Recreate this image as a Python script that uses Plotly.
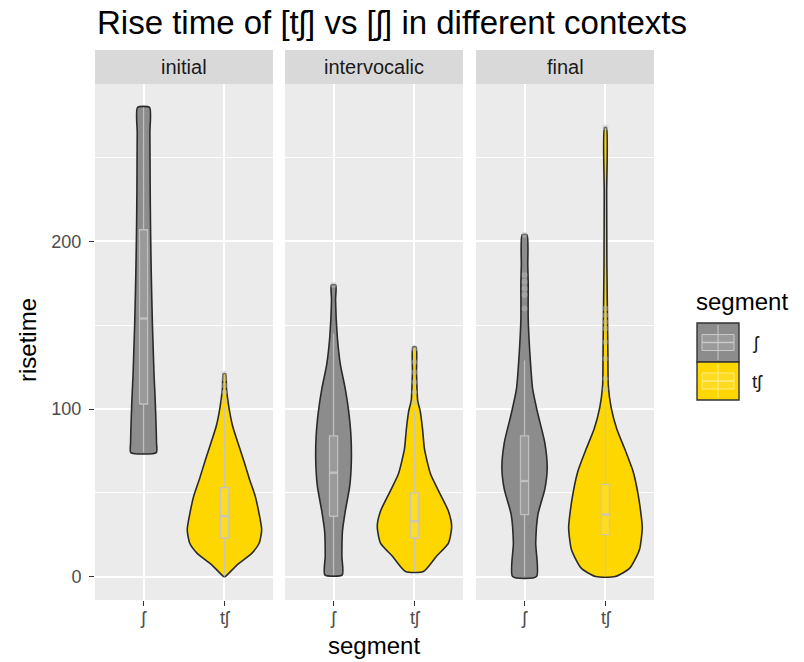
import plotly.graph_objects as go

# ---------------------------------------------------------------- data
contexts = ["initial", "intervocalic", "final"]
segments = ["ʃ", "tʃ"]
segment_pos = [1, 2]
segment_fill = ["#8C8C8C", "#FFD700"]

# Violin outlines: risetime levels and kernel-density half-widths
# (half-width in units of the category spacing).
initial_sh_level = [74, 80, 90, 100, 110, 120, 135, 150, 170, 190, 210, 230, 250, 265, 280]
initial_sh_width = [0.158, 0.160, 0.155, 0.148, 0.140, 0.130, 0.120, 0.110, 0.100, 0.092, 0.086, 0.082, 0.080, 0.078, 0.075]

initial_tsh_level = [0, 7, 14, 20, 28, 37, 48, 58, 69, 80, 90, 101, 112, 121]
initial_tsh_width = [0.010, 0.157, 0.340, 0.430, 0.460, 0.430, 0.380, 0.310, 0.240, 0.165, 0.100, 0.055, 0.025, 0.015]

interv_sh_level = [1, 12, 27, 39, 54, 69, 84, 99, 112, 127, 144, 165, 174]
interv_sh_width = [0.108, 0.103, 0.110, 0.145, 0.200, 0.220, 0.215, 0.186, 0.145, 0.083, 0.045, 0.025, 0.027]

interv_tsh_level = [3, 12, 20, 30, 39, 50, 61, 76, 88, 99, 105, 122, 137]
interv_tsh_width = [0.110, 0.270, 0.420, 0.460, 0.420, 0.310, 0.200, 0.124, 0.100, 0.070, 0.040, 0.025, 0.020]

final_sh_level = [0, 20, 37, 52, 65, 80, 97, 112, 133, 154, 175, 186, 204]
final_sh_width = [0.148, 0.138, 0.165, 0.250, 0.280, 0.250, 0.165, 0.100, 0.066, 0.045, 0.045, 0.040, 0.030]

final_tsh_level = [0, 5, 16, 29, 37, 50, 63, 76, 88, 101, 114, 133, 154, 186, 229, 268]
final_tsh_width = [0.120, 0.300, 0.420, 0.455, 0.440, 0.400, 0.340, 0.240, 0.140, 0.070, 0.035, 0.030, 0.025, 0.018, 0.015, 0.012]

violin_levels = [[initial_sh_level, initial_tsh_level],
                 [interv_sh_level, interv_tsh_level],
                 [final_sh_level, final_tsh_level]]
violin_widths = [[initial_sh_width, initial_tsh_width],
                 [interv_sh_width, interv_tsh_width],
                 [final_sh_width, final_tsh_width]]

# Box-plot summaries, ordered (initial ʃ, initial tʃ, interv ʃ, interv tʃ, final ʃ, final tʃ)
box_low = [74, 0, 1, 3, 0, 0]
box_q1 = [103, 23, 36, 23, 37, 25]
box_median = [154, 36, 62, 33, 57, 37]
box_q3 = [207, 53, 84, 50, 84, 55]
box_high = [280, 101, 145, 99, 129, 101]

# Outlying observations beyond the whiskers
outliers = [
    [],
    [105, 110, 114, 118, 121],
    [174],
    [104, 110, 116, 122, 128, 136],
    [160, 168, 172, 176, 180, 204],
    [112, 118, 130, 140, 148, 152, 156, 160, 268],
]

BOX_HALF = 0.05
BOX_LINE = "rgba(196,196,196,0.9)"
BOX_FILL = "rgba(255,255,255,0.13)"
FONT = "Liberation Sans, Arial, Helvetica, sans-serif"

# ---------------------------------------------------------------- layout helpers
W, H = 804, 662


def px(x):
    return x / W


def py(y):
    return 1 - y / H


panel_x = [(95, 273), (285, 463), (476, 654)]
panel_top, panel_bottom = 84, 600
strip_top = 50

fig = go.Figure()

for ci, ctx in enumerate(contexts):
    ax = "" if ci == 0 else str(ci + 1)
    xa, ya = "x" + ax, "y" + ax
    for si, seg in enumerate(segments):
        c = segment_pos[si]
        lv = violin_levels[ci][si]
        wd = violin_widths[ci][si]
        xs = [c + w for w in wd] + [c - w for w in reversed(wd)]
        ys = list(lv) + list(reversed(lv))
        xs.append(xs[0])
        ys.append(ys[0])
        # violin body
        fig.add_trace(go.Scatter(
            x=xs, y=ys, mode="lines", fill="toself",
            fillcolor=segment_fill[si],
            line=dict(color="#2A2A2A", width=1.6, shape="spline", smoothing=0.6),
            xaxis=xa, yaxis=ya, showlegend=False, hoverinfo="skip",
        ))
        k = ci * 2 + si
        # whiskers
        fig.add_trace(go.Scatter(
            x=[c, c, None, c, c],
            y=[box_low[k], box_q1[k], None, box_q3[k], box_high[k]],
            mode="lines", line=dict(color=BOX_LINE, width=1.3),
            xaxis=xa, yaxis=ya, showlegend=False, hoverinfo="skip",
        ))
        # interquartile box
        fig.add_trace(go.Scatter(
            x=[c - BOX_HALF, c + BOX_HALF, c + BOX_HALF, c - BOX_HALF, c - BOX_HALF],
            y=[box_q1[k], box_q1[k], box_q3[k], box_q3[k], box_q1[k]],
            mode="lines", fill="toself", fillcolor=BOX_FILL,
            line=dict(color=BOX_LINE, width=1.3),
            xaxis=xa, yaxis=ya, showlegend=False, hoverinfo="skip",
        ))
        # median
        fig.add_trace(go.Scatter(
            x=[c - BOX_HALF, c + BOX_HALF], y=[box_median[k], box_median[k]],
            mode="lines", line=dict(color=BOX_LINE, width=2.4),
            xaxis=xa, yaxis=ya, showlegend=False, hoverinfo="skip",
        ))
        if outliers[k]:
            fig.add_trace(go.Scatter(
                x=[c] * len(outliers[k]), y=outliers[k], mode="markers",
                marker=dict(size=6, color="rgba(190,190,190,0.45)"),
                xaxis=xa, yaxis=ya, showlegend=False, hoverinfo="skip",
            ))

axis_font = dict(family=FONT, size=18, color="#4D4D4D")
layout = dict(
    width=W, height=H,
    margin=dict(l=0, r=0, t=0, b=0),
    paper_bgcolor="white", plot_bgcolor="#EBEBEB",
    font=dict(family=FONT, color="#1A1A1A"),
    showlegend=False,
    shapes=[], annotations=[],
)

for ci in range(3):
    sfx = "" if ci == 0 else str(ci + 1)
    x0, x1 = panel_x[ci]
    layout["xaxis" + sfx] = dict(
        domain=[px(x0), px(x1)], range=[0.4, 2.6],
        tickvals=segment_pos, ticktext=segments, tickfont=axis_font,
        showgrid=True, gridcolor="white", gridwidth=1.5, zeroline=False,
        ticks="outside", ticklen=5, tickcolor="#333333", tickwidth=1.2,
        ticklabelstandoff=-4,
        anchor="y" + sfx, fixedrange=True,
    )
    layout["yaxis" + sfx] = dict(
        domain=[py(panel_bottom), py(panel_top)], range=[-14, 294],
        tickvals=[0, 100, 200], showticklabels=(ci == 0), tickfont=axis_font,
        showgrid=True, gridcolor="white", gridwidth=1.5, zeroline=False,
        ticks="outside" if ci == 0 else "", ticklen=5, tickcolor="#333333", tickwidth=1.2,
        ticklabelstandoff=4,
        minor=dict(tickvals=[50, 150, 250], showgrid=True, gridcolor="white", gridwidth=0.7),
        anchor="x" + sfx, fixedrange=True,
    )
    # facet strip
    layout["shapes"].append(dict(
        type="rect", xref="paper", yref="paper",
        x0=px(x0), x1=px(x1), y0=py(panel_top), y1=py(strip_top),
        fillcolor="#D9D9D9", line=dict(width=0), layer="below",
    ))
    layout["annotations"].append(dict(
        text=contexts[ci], xref="paper", yref="paper",
        x=px((x0 + x1) / 2), y=py((strip_top + panel_top) / 2),
        xanchor="center", yanchor="middle", showarrow=False,
        font=dict(size=20, color="#1A1A1A"),
    ))

# titles
layout["annotations"] += [
    dict(text="Rise time of [tʃ] vs [ʃ] in different contexts", xref="paper", yref="paper",
         x=px(95), y=py(23), xanchor="left", yanchor="middle", showarrow=False,
         font=dict(size=33, color="black")),
    dict(text="risetime", xref="paper", yref="paper", x=px(27), y=py(340),
         xanchor="center", yanchor="middle", textangle=-90, showarrow=False,
         font=dict(size=24, color="black")),
    dict(text="segment", xref="paper", yref="paper", x=px(374), y=py(645),
         xanchor="center", yanchor="middle", showarrow=False,
         font=dict(size=24, color="black")),
    dict(text="segment", xref="paper", yref="paper", x=px(694), y=py(301),
         xanchor="left", yanchor="middle", showarrow=False,
         font=dict(size=24, color="black")),
]

# legend keys: violin swatch with a box-plot glyph on top
key_x0, key_x1 = 697, 739
key_rows = [(323, 362), (362, 400)]
glyph_line = ["rgba(205,205,205,0.95)", "rgba(255,236,140,0.95)"]
for si, (ky0, ky1) in enumerate(key_rows):
    layout["shapes"].append(dict(
        type="rect", xref="paper", yref="paper",
        x0=px(key_x0), x1=px(key_x1), y0=py(ky1), y1=py(ky0),
        fillcolor=segment_fill[si], line=dict(color="#333333", width=1.4),
    ))
    cx = (key_x0 + key_x1) / 2
    cy = (ky0 + ky1) / 2
    layout["shapes"].append(dict(
        type="line", xref="paper", yref="paper",
        x0=px(cx), x1=px(cx), y0=py(ky1 - 2), y1=py(ky0 + 2),
        line=dict(color=glyph_line[si], width=1),
    ))
    layout["shapes"].append(dict(
        type="rect", xref="paper", yref="paper",
        x0=px(key_x0 + 5), x1=px(key_x1 - 5), y0=py(cy + 8), y1=py(cy - 8),
        fillcolor="rgba(255,255,255,0.12)", line=dict(color=glyph_line[si], width=1),
    ))
    layout["shapes"].append(dict(
        type="line", xref="paper", yref="paper",
        x0=px(key_x0 + 5), x1=px(key_x1 - 5), y0=py(cy), y1=py(cy),
        line=dict(color=glyph_line[si], width=1.5),
    ))
    layout["annotations"].append(dict(
        text=segments[si], xref="paper", yref="paper",
        x=px(750), y=py(cy), xanchor="left", yanchor="middle", showarrow=False,
        font=dict(size=19, color="#1A1A1A"),
    ))

fig.update_layout(**layout)
fig.write_html("out.html")
